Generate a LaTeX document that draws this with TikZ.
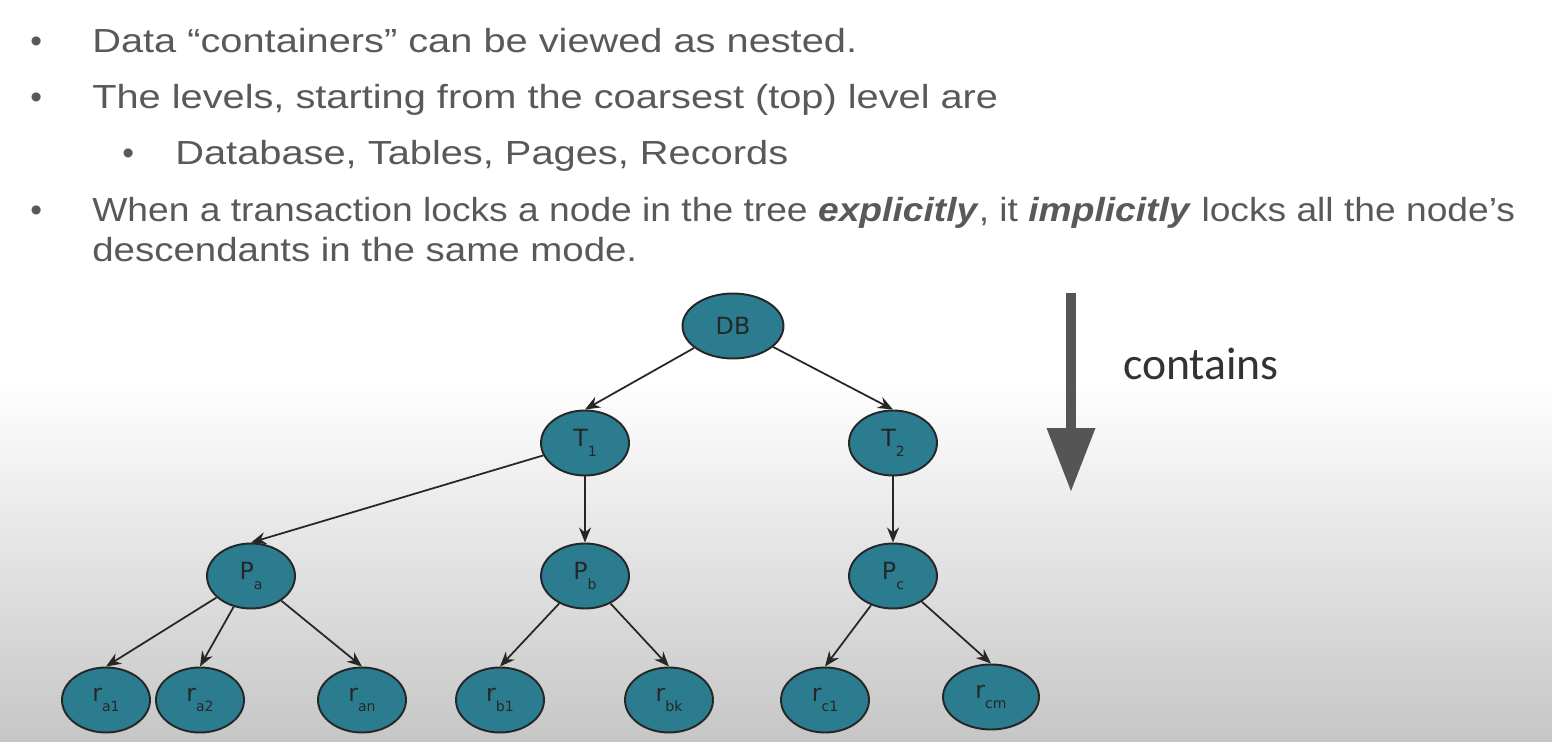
\documentclass[tikz,border=0pt]{standalone}
\usepackage{fontspec}
\setmainfont{Liberation Sans}
\newfontfamily\nodefont{DejaVu Sans}
\newfontfamily\capfont{Carlito}
\usetikzlibrary{arrows.meta,shapes.geometric}
\definecolor{nodeteal}{RGB}{44,124,144}
\definecolor{slidegray}{RGB}{89,89,89}
\definecolor{bigarrow}{RGB}{85,85,85}
\newcommand{\lbl}[2]{#1\raisebox{-5.5pt}{\fontsize{8}{8}\selectfont #2}}
% slide lines are stretched sideways to the width they have on the slide
\newcommand{\slideline}[2]{\resizebox{#1}{\height}{#2}}
\tikzset{
  lvl/.style={ellipse, draw=black!85, line width=1.1pt, fill=nodeteal,
    minimum width=1.76cm, minimum height=1.3cm, inner sep=0pt,
    font=\nodefont\fontsize{13.5}{14}\selectfont, text=black!85},
  bullet/.style={anchor=base west, inner sep=0pt, text=slidegray,
    font=\fontsize{19}{23}\selectfont},
}
\begin{document}
\begin{tikzpicture}[x=0.02cm,y=-0.02cm]
      % slide background
      \fill[white] (0,0) rectangle (1552,742);
      \shade[top color=white, bottom color={rgb,255:red,198;green,198;blue,198}]
        (0,380) rectangle (1552,742);
      \useasboundingbox (0,0) rectangle (1552,742);
      % bullet text
      \node[bullet] (b1) at (30,53) {•};
      \node[bullet] (t1) at (92,53) {\slideline{15.30cm}{Data “containers” can be viewed as nested.}};
      \node[bullet] (b2) at (30,109) {•};
      \node[bullet] (t2) at (92,109) {\slideline{18.12cm}{The levels, starting from the coarsest (top) level are}};
      \node[bullet] (b3) at (122,165) {•};
      \node[bullet] (t3) at (175,165) {\slideline{12.26cm}{Database, Tables, Pages, Records}};
      \node[bullet] (b4) at (30,222) {•};
      \node[bullet] (t4) at (92,222) {\slideline{28.46cm}{When a transaction locks a node in the tree \textbf{\textit{explicitly}}, it \textbf{\textit{implicitly}} locks all the node’s}};
      \node[bullet] (t5) at (92,262) {\slideline{10.9cm}{descendants in the same mode.}};
      % tree
      \node[lvl, minimum width=2.02cm] (DB) at (733,326) {DB};
      \node[lvl] (T1) at (585,443) {\lbl{T}{1}};
      \node[lvl] (T2) at (893,443) {\lbl{T}{2}};
      \node[lvl] (Pa) at (251,576) {\lbl{P}{a}};
      \node[lvl] (Pb) at (585,576) {\lbl{P}{b}};
      \node[lvl] (Pc) at (893,576) {\lbl{P}{c}};
      \node[lvl] (ra1) at (106,700) {\lbl{r}{a1}};
      \node[lvl] (ra2) at (200,700) {\lbl{r}{a2}};
      \node[lvl] (ran) at (362,700) {\lbl{r}{an}};
      \node[lvl] (rb1) at (500,700) {\lbl{r}{b1}};
      \node[lvl] (rbk) at (669,700) {\lbl{r}{bk}};
      \node[lvl] (rc1) at (825,700) {\lbl{r}{c1}};
      \node[lvl, minimum width=1.92cm] (rcm) at (991,697) {\lbl{r}{cm}};
      \begin{scope}[-{Stealth[length=0.3cm,width=0.24cm]}, line width=1pt, black!85]
        \draw (DB) to (T1.north);
        \draw (DB) to (T2.north);
        \draw (T1) to (Pa.north);
        \draw (T1) to (Pb.north);
        \draw (T2) to (Pc.north);
        \draw (Pa) to (ra1.north);
        \draw (Pa) to (ra2.north);
        \draw (Pa) to (ran.north);
        \draw (Pb) to (rb1.north);
        \draw (Pb) to (rbk.north);
        \draw (Pc) to (rc1.north);
        \draw (Pc) to (rcm.north);
      \end{scope}
      % direction arrow
      \coordinate (ctop) at (1071,293);
      \coordinate (cbot) at (1071,492);
      \draw[bigarrow, line width=5.7pt, -{Triangle[length=1.28cm,width=0.92cm]}] (ctop) -- (cbot);
      \node[anchor=base west, text=black!80, font=\capfont\fontsize{26}{30}\selectfont]
        (contains) at (1117,380) {contains};
    \end{tikzpicture}
\end{document}
